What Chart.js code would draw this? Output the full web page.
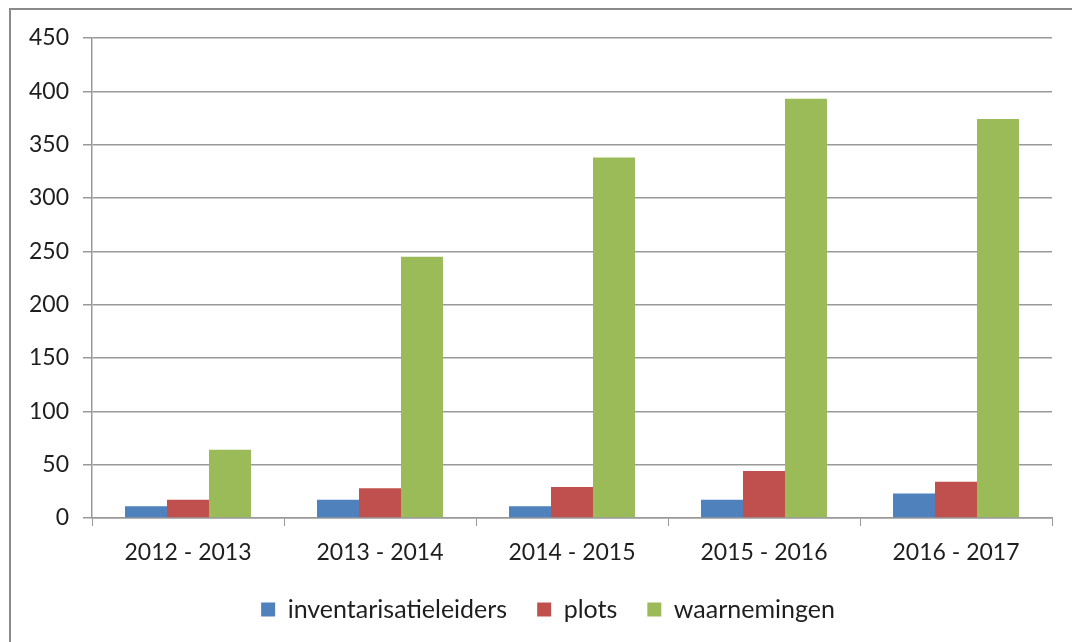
<!DOCTYPE html>
<html>
<head>
<meta charset="utf-8">
<script src="https://cdn.jsdelivr.net/npm/chart.js@4"></script>
<style>
  body { margin: 0; background: #fff; }
  #wrap { position: relative; width: 1072px; height: 642px; overflow: hidden; }
  #frame { position: absolute; left: 9px; top: 8px; width: 1100px; height: 700px; border: 2px solid #8a8a8a; }
  canvas { position: absolute; left: 0; top: 0; }
</style>
</head>
<body>
<div id="wrap">
  <div id="frame"></div>
  <canvas id="chart" width="1072" height="642"></canvas>
</div>
<script>
// data
const periods = ["2012 - 2013", "2013 - 2014", "2014 - 2015", "2015 - 2016", "2016 - 2017"];
const leiders = [11, 17, 11, 17, 23];
const plots = [17, 28, 29, 44, 34];
const waarnemingen = [64, 245, 338, 393, 374];

const gridColor = "#999999";
const textColor = "#1e1e1e";
const fontFam = "Lato, 'Open Sans', sans-serif";

// legend staat iets rechts van het midden
const shiftLegend = {
  id: "shiftLegend",
  afterLayout: function (chart) {
    if (chart.legend) {
      chart.legend.left += 22;
      chart.legend.right += 22;
    }
  }
};

document.addEventListener("DOMContentLoaded", function () {
  const ctx = document.getElementById("chart").getContext("2d");
  new Chart(ctx, {
    type: "bar",
    data: {
      labels: periods,
      datasets: [
        { label: "inventarisatieleiders", data: leiders, backgroundColor: "#4f81bd" },
        { label: "plots", data: plots, backgroundColor: "#c0504d" },
        { label: "waarnemingen", data: waarnemingen, backgroundColor: "#9bbb59" }
      ]
    },
    options: {
      responsive: false,
      animation: false,
      layout: { padding: { left: 0, top: 38, right: 20, bottom: 10 } },
      datasets: { bar: { categoryPercentage: 0.656, barPercentage: 1.0 } },
      plugins: {
        tooltip: { enabled: false },
        legend: {
          position: "bottom",
          labels: {
            boxWidth: 14, boxHeight: 14, padding: 30,
            color: textColor,
            font: { family: fontFam, size: 25 }
          }
        }
      },
      scales: {
        x: {
          grid: { display: true, drawOnChartArea: false, drawTicks: true, tickLength: 8, color: gridColor, offset: true },
          border: { color: gridColor, width: 1.5 },
          ticks: { color: textColor, padding: 13, font: { family: fontFam, size: 23 } },
          afterFit: function (scale) { scale.height = 49; }
        },
        y: {
          min: 0, max: 450,
          ticks: { stepSize: 50, color: textColor, padding: 14, font: { family: fontFam, size: 23 } },
          grid: { color: gridColor, lineWidth: 1.5, tickLength: 9 },
          border: { color: gridColor, width: 1.5 },
          afterFit: function (scale) { scale.width = 92; }
        }
      }
    },
    plugins: [shiftLegend]
  });
});
</script>
</body>
</html>
